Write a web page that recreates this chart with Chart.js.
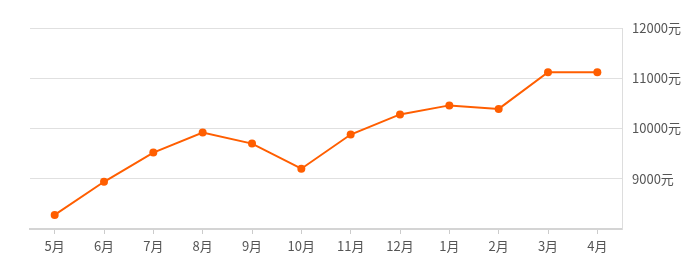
<!DOCTYPE html>
<html>
<head>
<meta charset="utf-8">
<script src="https://cdn.jsdelivr.net/npm/chart.js@4"></script>
<style>
  html, body { margin: 0; padding: 0; background: #fff; }
  #wrap { width: 695px; height: 266px; position: relative; }
</style>
</head>
<body>
<div id="wrap"><canvas id="priceChart"></canvas></div>
<script>
  // === Datos ===
  const MONTHS = ["5月","6月","7月","8月","9月","10月","11月","12月","1月","2月","3月","4月"];
  const PRICES = [8280, 8940, 9520, 9920, 9700, 9200, 9880, 10280, 10460, 10390, 11120, 11120];
  const Y_MIN = 8000, Y_MAX = 12000, Y_STEP = 1000;

  const FONT = { family: '"Noto Sans CJK SC", "Noto Sans", sans-serif', size: 13 };
  const ORANGE = "#ff5e00";

  new Chart(document.getElementById("priceChart"), {
    type: "line",
    data: {
      labels: MONTHS,
      datasets: [{
        data: PRICES,
        borderColor: ORANGE,
        backgroundColor: ORANGE,
        borderWidth: 2,
        pointRadius: 4,
        pointBackgroundColor: ORANGE,
        pointBorderWidth: 0,
        tension: 0
      }]
    },
    options: {
      responsive: true,
      maintainAspectRatio: false,
      animation: false,
      layout: { padding: { left: 30, top: 28, right: 0, bottom: 0 } },
      plugins: { legend: { display: false }, tooltip: { enabled: false } },
      scales: {
        x: {
          offset: true,
          grid: { offset: false, drawOnChartArea: false, drawTicks: true, tickLength: 5, color: "#ccc" },
          border: { display: true, color: "#d4d4d4", width: 2 },
          ticks: { color: "#555", font: FONT, padding: 4, maxRotation: 0, autoSkip: false },
          afterFit: (s) => { s.height = 37; }
        },
        y: {
          position: "right",
          min: Y_MIN, max: Y_MAX,
          grid: { color: "#e0e0e0", drawTicks: false },
          border: { display: true, color: "#dddddd" },
          ticks: {
            stepSize: Y_STEP,
            color: "#555",
            font: FONT,
            padding: 10,
            callback: (v) => v === Y_MIN ? "" : v + "元"
          },
          afterFit: (s) => { s.width = 73; }
        }
      }
    }
  });
</script>
</body>
</html>
